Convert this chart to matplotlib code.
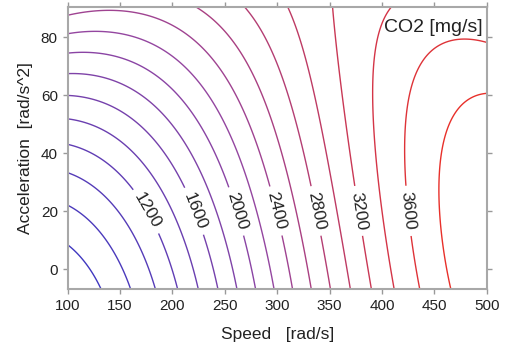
import numpy as np
import matplotlib
matplotlib.use("Agg")
import matplotlib.pyplot as plt
from matplotlib.colors import LinearSegmentedColormap, Normalize

# contour crossings
# speed [rad/s], acceleration [rad/s^2], CO2 level [mg/s]
speed = [100, 100, 100, 100, 100, 100, 100, 100, 100, 100,
         132, 160, 184, 205, 224, 244, 261, 280, 298, 315, 333, 351, 369.5, 389.5, 411, 436, 466,
         224, 270, 310, 352.5, 407, 137, 120,
         106.5, 146.3, 176.6, 200.4, 222.7, 242, 261.5, 299, 336.6, 357, 377, 401.5, 424.8, 456.6,
         168, 205, 237, 262.5, 287.3, 311.7, 337.2, 362.7, 390.7, 426.3, 483.6,
         237, 260.9, 281.6, 302.2, 324.5, 345.2, 367.5, 393.8, 422.5, 458.2,
         105, 157.5, 189.3, 214.7,
         500, 500, 471, 448.6, 434.3, 424.8, 471, 463, 396, 392.9, 324.5,
         232, 232, 232, 232]
accel = [8.9, 22.7, 33.4, 43.1, 51.8, 59.8, 67.4, 74.5, 81.4, 87.7,
         -7, -7, -7, -7, -7, -7, -7, -7, -7, -7, -7, -7, -7, -7, -7, -7, -7,
         90.3, 90.3, 90.3, 90.3, 90.3, 89.1, 88.9,
         20, 20, 19, 20, 19.4, 20, 19.4, 20, 20, 20, 20, 20, 20, 20,
         59.8, 59.8, 59.8, 59.8, 59.8, 59.8, 59.8, 59.8, 59.8, 59.8, 59.5,
         41.7, 41.7, 41.7, 41.7, 41.7, 41.7, 41.7, 41.7, 41.7, 41.7,
         42.5, 42.5, 42.5, 42.5,
         78.8, 60.3, 78, 75, 67, 56.6, 56.6, 50.9, 79.7, 68.2, 68.2,
         88.3, 75.1, 60.8, 46.4]
co2 = [600, 800, 1000, 1200, 1400, 1600, 1800, 2000, 2200, 2400,
       600, 800, 1000, 1200, 1400, 1600, 1800, 2000, 2200, 2400, 2600, 2800, 3000, 3200, 3400, 3600, 3800,
       2600, 2800, 3000, 3200, 3400, 2400, 2400,
       800, 1000, 1200, 1400, 1600, 1800, 2000, 2400, 2800, 3000, 3200, 3400, 3600, 3800,
       1800, 2000, 2200, 2400, 2600, 2800, 3000, 3200, 3400, 3600, 3800,
       2000, 2200, 2400, 2600, 2800, 3000, 3200, 3400, 3600, 3800,
       1200, 1400, 1600, 1800,
       3600, 3800, 3600, 3600, 3600, 3600, 3800, 3800, 3400, 3400, 3000,
       2600, 2400, 2200, 2000]

levels = np.arange(600, 3801, 200)
label_levels = np.arange(1200, 3601, 400)
label_accel = 20


def basis(v, a, deg=4):
    x = (np.asarray(v, float) - 300) / 200
    y = (np.asarray(a, float) - 40) / 50
    return np.stack([x**i * y**j for i in range(deg + 1) for j in range(deg + 1 - i)], axis=-1)


# smooth surface through the read crossings
coef, *_ = np.linalg.lstsq(basis(speed, accel), np.asarray(co2, float), rcond=None)
V, A = np.meshgrid(np.linspace(100, 500, 400), np.linspace(-7, 90.3, 400))
Z = basis(V, A) @ coef

plt.rcParams["font.family"] = ["Liberation Sans", "DejaVu Sans"]
fig = plt.figure(figsize=(5.07, 3.47), dpi=100)
ax = fig.add_axes([0.1333, 0.1663, 0.8267, 0.8121])

cmap = LinearSegmentedColormap.from_list("co2", ["#4038c0", "#9446a0", "#e8302a"])
norm = Normalize(levels[0], levels[-1])
plain = [l for l in levels if l not in label_levels]
ax.contour(V, A, Z, levels=plain, cmap=cmap, norm=norm, linewidths=1.0)
cs = ax.contour(V, A, Z, levels=label_levels, cmap=cmap, norm=norm, linewidths=1.0)

# put labels where each labelled contour crosses accel = 20
pos = []
for segs in cs.allsegs:
    pts = np.vstack(segs)
    k = np.argmin(np.abs(pts[:, 1] - label_accel))
    pos.append((pts[k, 0], pts[k, 1]))
ax.clabel(cs, manual=pos, inline=True, fmt="%d",
          fontsize=12.5, colors="#222222", inline_spacing=6)

ax.set_xlim(100, 500)
ax.set_ylim(-7, 90.3)
ax.set_xticks(np.arange(100, 501, 50))
ax.set_yticks(np.arange(0, 81, 20))
ax.tick_params(direction="out", length=3.5, width=1, color="#999999",
               top=True, right=True, labelsize=11, labelcolor="#222222")
for s in ax.spines.values():
    s.set_color("#a8a8a8")
    s.set_linewidth(1.5)

ax.set_xlabel("Speed   [rad/s]", fontsize=12.5, color="#222222")
ax.set_ylabel("Acceleration  [rad/s^2]", fontsize=12.5, color="#222222")
ax.xaxis.set_label_coords(0.5, -0.135)
ax.yaxis.set_label_coords(-0.082, 0.5)
ax.text(0.99, 0.93, "CO2 [mg/s]", transform=ax.transAxes, ha="right", va="center",
        fontsize=14, color="#222222")

fig.savefig("out.png", dpi=100)
